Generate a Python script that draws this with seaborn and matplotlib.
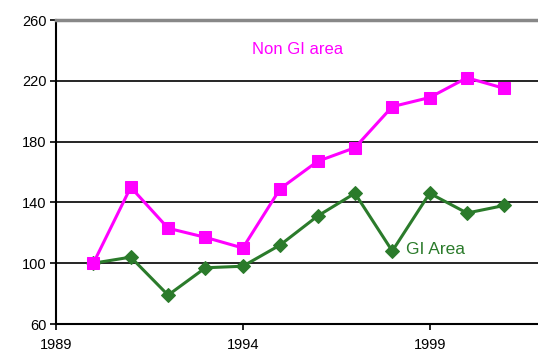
import pandas as pd
import seaborn as sns
import matplotlib.pyplot as plt

years = list(range(1990, 2002))
non_gi = [100, 150, 123, 117, 110, 149, 167, 176, 203, 209, 222, 215]
gi = [100, 104, 79, 97, 98, 112, 131, 146, 108, 146, 133, 138]

sns.set_style("white")
plt.rcParams["font.family"] = ["Liberation Sans", "DejaVu Sans"]

dfr = pd.DataFrame({"year": years * 2,
                    "value": non_gi + gi,
                    "series": ["Non GI area"] * len(years) + ["GI Area"] * len(years)})

fig = plt.figure(figsize=(5.38, 3.58), dpi=100)
ax = fig.add_axes([56 / 538, 34 / 358, 1 - 56 / 538, 304 / 358])

# green first so the pink squares sit on top where they meet
for name, color, marker, ms in [("GI Area", "#2b7b2b", "D", 7),
                                ("Non GI area", "#ff00ff", "s", 9)]:
    sub = dfr[dfr["series"] == name]
    sns.lineplot(data=sub, x="year", y="value", color=color, marker=marker,
                 markersize=ms, markeredgecolor=color, linewidth=2.2, ax=ax,
                 legend=False)

ax.set_xlim(1989, 2001.9)
ax.set_ylim(60, 260)
ax.set_yticks([60, 100, 140, 180, 220, 260])
ax.set_xticks([1989, 1994, 1999])
for y in [100, 140, 180, 220]:
    ax.axhline(y, color="black", linewidth=1.2, zorder=0)
ax.set_xlabel("")
ax.set_ylabel("")
ax.tick_params(axis="both", direction="out", length=4, width=1.2,
               labelsize=10.5, colors="black", pad=3)
ax.tick_params(axis="y", left=True)
ax.tick_params(axis="x", bottom=True, pad=6)
for side in ["left", "bottom"]:
    ax.spines[side].set_color("black")
    ax.spines[side].set_linewidth(1.5)
ax.spines["top"].set_color("#888888")
ax.spines["top"].set_linewidth(2.5)
ax.spines["right"].set_visible(False)

ax.text(252, 358 - 50, "Non GI area", color="#ff00ff", fontsize=12,
        transform=None, va="center")
ax.text(406, 358 - 249, "GI Area", color="#2b7b2b", fontsize=12.5,
        transform=None, va="center")

fig.savefig("out.png", dpi=100)
